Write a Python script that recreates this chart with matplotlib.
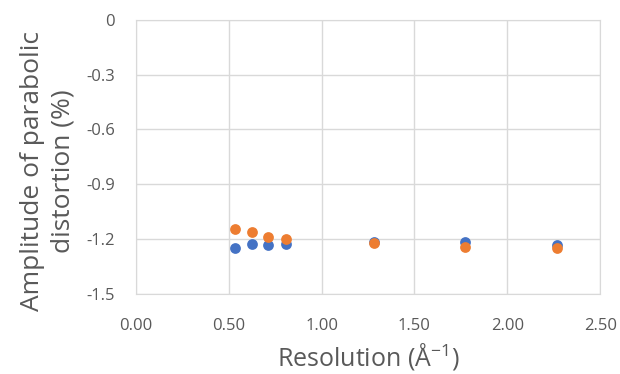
import matplotlib
matplotlib.use("Agg")
import matplotlib.pyplot as plt

resolution = [0.533, 0.623, 0.710, 0.807, 1.281, 1.773, 2.267]
series_blue = [-1.250, -1.228, -1.230, -1.224, -1.217, -1.217, -1.232]
series_orange = [-1.144, -1.162, -1.189, -1.199, -1.219, -1.241, -1.250]
xticks = [0.0, 0.5, 1.0, 1.5, 2.0, 2.5]
yticks = [0, -0.3, -0.6, -0.9, -1.2, -1.5]
ytick_labels = ["0", "-0.3", "-0.6", "-0.9", "-1.2", "-1.5"]

plt.rcParams['font.family'] = ['Open Sans', 'DejaVu Sans']
fig = plt.figure(figsize=(6.2, 3.74), dpi=100)
ax = fig.add_axes([0.219, 0.214, 0.749, 0.733])

ax.scatter(resolution, series_blue, s=60, color="#4472C4", zorder=3, linewidths=0)
ax.scatter(resolution, series_orange, s=60, color="#ED7D31", zorder=4, linewidths=0)

ax.set_xlim(0, 2.5)
ax.set_ylim(-1.5, 0)
ax.set_xticks(xticks)
ax.set_xticklabels([f"{v:.2f}" for v in xticks])
ax.set_yticks(yticks)
ax.set_yticklabels(ytick_labels)
ax.grid(True, color="#d9d9d9", linewidth=1)
ax.set_axisbelow(True)
for s in ax.spines.values():
    s.set_color("#d9d9d9")
ax.tick_params(length=0, labelsize=12, colors="#595959")
ax.tick_params(axis="x", pad=17)
ax.tick_params(axis="y", pad=15)

fig.text(368 / 620, 1 - 356 / 374, r"Resolution (Å$\mathregular{^{-1}}$)", fontsize=18,
         color="#595959", ha="center", va="center")
fig.text(48 / 620, 1 - 171 / 374, "Amplitude of parabolic\ndistortion (%)",
         fontsize=19, color="#595959", ha="center", va="center",
         rotation=90, linespacing=1.3, multialignment="center")

fig.savefig("out.png", dpi=100)
